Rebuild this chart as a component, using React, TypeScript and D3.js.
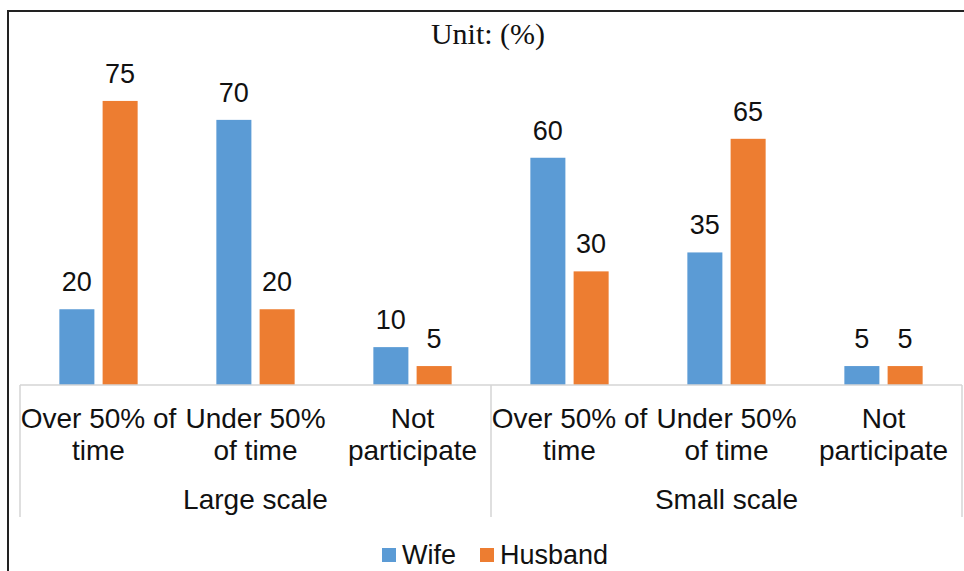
import React from 'react';
import * as d3 from 'd3';

// data
const groups = ['Large scale', 'Small scale'];
const categories = ['Over 50% of time', 'Under 50% of time', 'Not participate'];
const categoryLines = [['Over 50% of', 'time'], ['Under 50%', 'of time'], ['Not', 'participate']];
const series = ['Wife', 'Husband'];
const wifeValues = [20, 70, 10, 60, 35, 5];
const husbandValues = [75, 20, 5, 30, 65, 5];
const colors = ['#5B9BD5', '#ED7D31'];

const W = 964;
const H = 571;
const font = 'Liberation Sans, Arial, sans-serif';

const App = () => {
  const plot = { left: 20, right: 962, base: 385, top: 82 };

  const xGroup = d3.scaleBand().domain(groups).range([plot.left, plot.right]);
  const xCat = d3.scaleBand().domain(categories).range([0, xGroup.bandwidth()]);
  const xSeries = d3.scaleBand().domain(series).range([0, xCat.bandwidth()])
    .paddingInner(0.19).paddingOuter(0.91);
  const y = d3.scaleLinear().domain([0, 80]).range([plot.base, plot.top]);

  const rows = groups.flatMap((g, gi) =>
    categories.map((c, ci) => ({
      group: g, cat: c, idx: gi * categories.length + ci,
      values: [wifeValues[gi * 3 + ci], husbandValues[gi * 3 + ci]],
    }))
  );

  const separators = [plot.left, ...groups.map(g => (xGroup(g) as number) + xGroup.bandwidth())];

  return (
    <svg width={W} height={H} style={{ position: 'absolute', left: 0, top: 0, background: '#fff' }}>
      {/* frame */}
      <path d={`M8,${H} V11 H${W}`} fill="none" stroke="#222" strokeWidth={2} />

      <text x={488} y={44} textAnchor="middle" fontFamily="Liberation Serif, Times New Roman, serif"
        fontSize={30} fill="#111">Unit: (%)</text>

      {/* bars */}
      {rows.map(r => {
        const cx = (xGroup(r.group) as number) + (xCat(r.cat) as number);
        return (
          <g key={r.idx} transform={`translate(${cx},0)`}>
            {series.map((s, si) => (
              <g key={s}>
                <rect x={xSeries(s)} y={y(r.values[si])} width={xSeries.bandwidth()}
                  height={plot.base - y(r.values[si])} fill={colors[si]} />
                <text x={(xSeries(s) as number) + xSeries.bandwidth() / 2} y={y(r.values[si]) - 18}
                  textAnchor="middle" fontFamily={font} fontSize={27} fill="#111">{r.values[si]}</text>
              </g>
            ))}
          </g>
        );
      })}

      {/* axis */}
      <line x1={plot.left} x2={plot.right} y1={plot.base} y2={plot.base} stroke="#d4d4d4" strokeWidth={1.5} />
      {separators.map((x, i) => (
        <line key={i} x1={x} x2={x} y1={plot.base} y2={517} stroke="#d4d4d4" strokeWidth={1.5} />
      ))}

      {rows.map(r => {
        const cx = (xGroup(r.group) as number) + (xCat(r.cat) as number) + xCat.bandwidth() / 2;
        const lines = categoryLines[categories.indexOf(r.cat)];
        return (
          <text key={r.idx} x={cx} textAnchor="middle" fontFamily={font} fontSize={28} fill="#111">
            {lines.map((l, li) => <tspan key={li} x={cx} y={428 + li * 32}>{l}</tspan>)}
          </text>
        );
      })}
      {groups.map(g => (
        <text key={g} x={(xGroup(g) as number) + xGroup.bandwidth() / 2} y={509} textAnchor="middle"
          fontFamily={font} fontSize={28} fill="#111">{g}</text>
      ))}

      {/* legend */}
      {series.map((s, i) => {
        const lx = [382, 480][i];
        return (
          <g key={s}>
            <rect x={lx} y={548} width={14} height={14} fill={colors[i]} />
            <text x={lx + 20} y={564} fontFamily={font} fontSize={27} fill="#111">{s}</text>
          </g>
        );
      })}
    </svg>
  );
};

export default App;
